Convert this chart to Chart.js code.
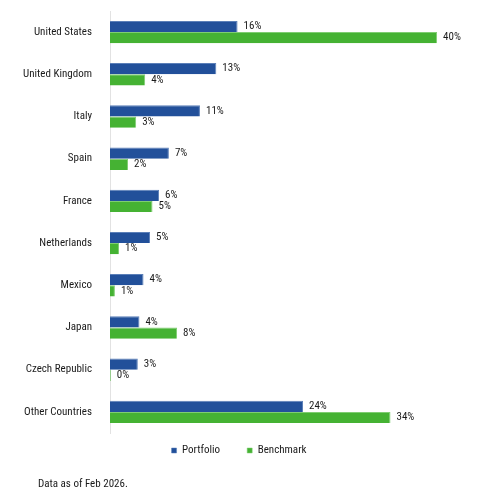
<!DOCTYPE html>
<html>
<head>
<meta charset="utf-8">
<script src="https://cdn.jsdelivr.net/npm/chart.js@4/dist/chart.umd.min.js"></script>
<style>
  html, body { margin: 0; padding: 0; background: #fff; }
  #wrap { position: relative; width: 486px; height: 502px; }
  #footnote {
    position: absolute; left: 38px; top: 477px;
    font: 11px "Roboto Condensed", sans-serif;
    color: #1a1a1a;
  }
</style>
</head>
<body>
<div id="wrap">
  <canvas id="countryChart" width="486" height="502"></canvas>
  <div id="footnote">Data as of Feb 2026.</div>
</div>
<script>
const countries = ["United States", "United Kingdom", "Italy", "Spain", "France",
                   "Netherlands", "Mexico", "Japan", "Czech Republic", "Other Countries"];
const portfolio = [15.6, 13.0, 11.0, 7.2, 6.0, 4.9, 4.1, 3.6, 3.4, 23.6];
const benchmark = [40.0, 4.3, 3.2, 2.2, 5.2, 1.1, 0.6, 8.2, 0.1, 34.3];

const FONT = "'Roboto Condensed', sans-serif";

// write the rounded % next to the end of each bar
const valueLabels = {
    id: "valueLabels",
    afterDatasetsDraw(chart) {
        const c = chart.ctx;
        c.save();
        c.font = "11px " + FONT;
        c.fillStyle = "#1a1a1a";
        c.textAlign = "left";
        c.textBaseline = "middle";
        chart.data.datasets.forEach((ds, i) => {
            chart.getDatasetMeta(i).data.forEach((bar, j) => {
                c.fillText(Math.round(ds.data[j]) + "%", bar.x + 6, bar.y);
            });
        });
        c.restore();
    }
};

const ctx = document.getElementById("countryChart").getContext("2d");
const chart = new Chart(ctx, {
    type: "bar",
    data: {
        labels: countries,
        datasets: [
            { label: "Portfolio", data: portfolio, backgroundColor: "#22509A",
              borderColor: "#5b7fb8", borderWidth: { right: 1, top: 1 } },
            { label: "Benchmark", data: benchmark, backgroundColor: "#45B233",
              borderColor: "#7fcd72", borderWidth: { right: 1, top: 1 } }
        ]
    },
    options: {
        indexAxis: "y",
        responsive: false,
        animation: false,
        layout: { padding: { top: 11, right: 8, left: 0, bottom: 36 } },
        categoryPercentage: 0.53,
        barPercentage: 1.0,
        scales: {
            x: { min: 0, max: 45, display: false },
            y: {
                grid: { display: false },
                border: { color: "#e2e2e2", width: 1 },
                ticks: { color: "#1a1a1a", font: { family: FONT, size: 11 }, padding: 10 },
                afterFit(scale) {
                    scale.width = 110;
                    scale.paddingTop = 0;
                    scale.paddingBottom = 0;
                }
            }
        },
        plugins: {
            legend: {
                position: "bottom",
                labels: {
                    boxWidth: 5, boxHeight: 5, padding: 12,
                    color: "#1a1a1a", font: { family: FONT, size: 11 },
                    // wider gap between the two items than the vertical padding allows
                    generateLabels(chart) {
                        const items = Chart.defaults.plugins.legend.labels.generateLabels(chart);
                        items[0].text += "      ";
                        return items;
                    }
                }
            },
            tooltip: { enabled: false }
        }
    },
    plugins: [valueLabels]
});
</script>
</body>
</html>
